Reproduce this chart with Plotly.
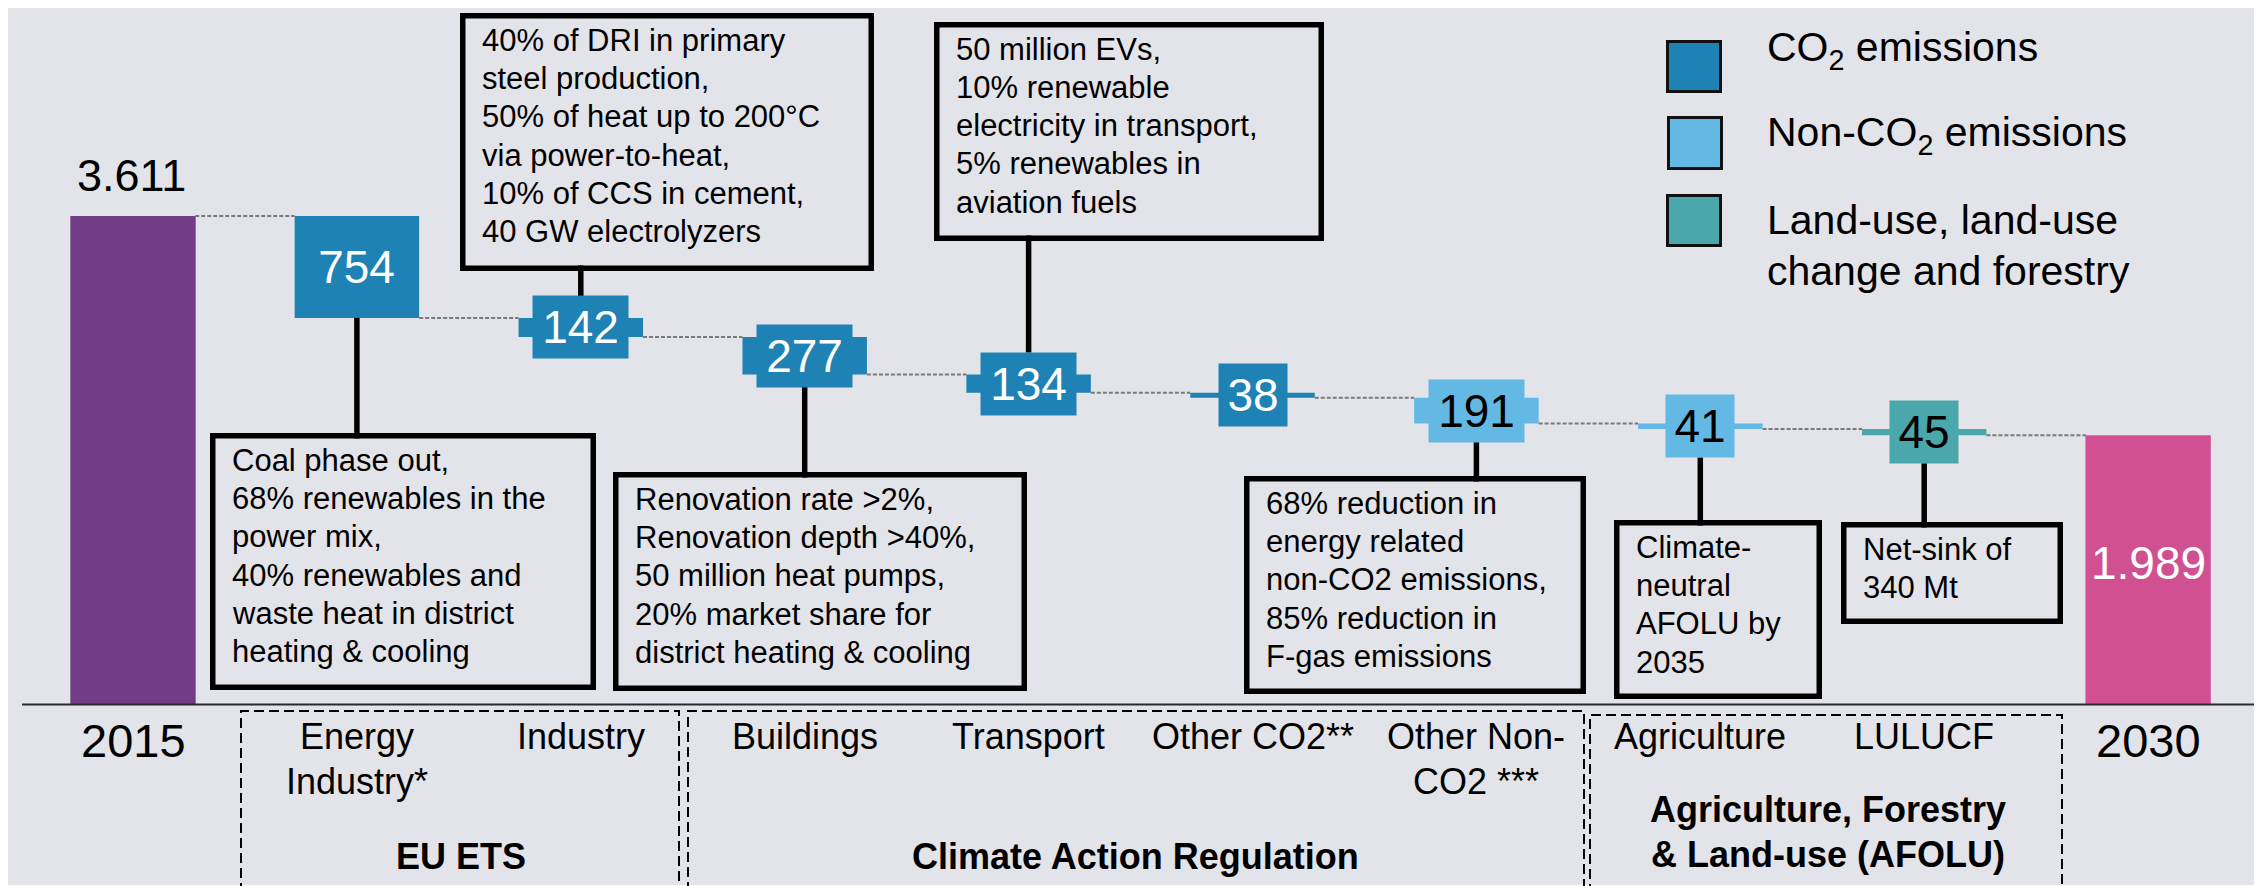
import plotly.graph_objects as go

# ---------------- data ----------------
years = ["2015", "2030"]
start_total = 3611
end_total = 1989
sectors = ["Energy Industry*", "Industry", "Buildings", "Transport",
           "Other CO2**", "Other Non-CO2 ***", "Agriculture", "LULUCF"]
sector_labels = ["Energy<br>Industry*", "Industry", "Buildings", "Transport",
                 "Other CO2**", "Other Non-<br>CO2 ***", "Agriculture", "LULUCF"]
reductions = [754, 142, 277, 134, 38, 191, 41, 45]
reduction_type = ["CO2", "CO2", "CO2", "CO2", "CO2", "NonCO2", "NonCO2", "LULUCF"]

callout_texts = {
    0: ["Coal phase out,", "68% renewables in the", "power mix,",
        "40% renewables and", "waste heat in district", "heating & cooling"],
    1: ["40% of DRI in primary", "steel production,", "50% of heat up to 200°C",
        "via power-to-heat,", "10% of CCS in cement,", "40 GW electrolyzers"],
    2: ["Renovation rate >2%,", "Renovation depth >40%,", "50 million heat pumps,",
        "20% market share for", "district heating & cooling"],
    3: ["50 million EVs,", "10% renewable", "electricity in transport,",
        "5% renewables in", "aviation fuels"],
    5: ["68% reduction in", "energy related", "non-CO2 emissions,",
        "85% reduction in", "F-gas emissions"],
    6: ["Climate-", "neutral", "AFOLU by", "2035"],
    7: ["Net-sink of", "340 Mt"],
}

legend_items = [("CO2", "CO<sub>2</sub> emissions"),
                ("NonCO2", "Non-CO<sub>2</sub> emissions"),
                ("LULUCF", "Land-use, land-use|change and forestry")]

# ---------------- styles ----------------
W, H = 2262, 886
BG = "#E3E4E9"
C_START = "#723D86"
C_END = "#D05092"
type_colors = {"CO2": "#1F82B4", "NonCO2": "#64B9E4", "LULUCF": "#4AA8AC"}
type_text = {"CO2": "white", "NonCO2": "black", "LULUCF": "black"}
FONT = "Arial, 'Liberation Sans', sans-serif"

X0, DX = 125.0, 223.9          # pixel of category 0, pixels per category
Y0, K = 696.0, 488.0 / 3611.0  # pixel of value 0, pixels per unit


def vy(v):      # value -> pixel y
    return Y0 - v * K


def px(xp):     # pixel x -> paper
    return xp / W


def py(yp):     # pixel y -> paper
    return 1 - yp / H


# running totals
levels = [start_total]
for r in reductions:
    levels.append(levels[-1] - r)
bases = levels[1:]
centers = [b + r / 2 for b, r in zip(bases, reductions)]

fig = go.Figure()

BW = 0.556
fig.add_trace(go.Bar(x=[0, len(sectors) + 1], y=[start_total, end_total],
                     width=BW + 0.004, marker=dict(color=[C_START, C_END], line=dict(width=0)),
                     hoverinfo="skip", showlegend=False))
fig.add_trace(go.Bar(x=list(range(1, len(sectors) + 1)), y=reductions, base=bases,
                     width=BW, marker=dict(color=[type_colors[t] for t in reduction_type],
                                           line=dict(width=0)),
                     hoverinfo="skip", showlegend=False))

# dashed connectors between consecutive bars
cx, cy = [], []
for i, lv in enumerate(levels):
    cx += [i + BW / 2, i + 1 - BW / 2, None]
    cy += [lv, lv, None]
fig.add_trace(go.Scatter(x=cx, y=cy, mode="lines",
                         line=dict(color="#7a7a7a", width=2, dash="4px,2px"),
                         hoverinfo="skip", showlegend=False))

shapes = []
annotations = []

# white strip at the very bottom
shapes.append(dict(type="rect", xref="paper", yref="paper", x0=0, x1=1, y0=0, y1=py(877),
                   fillcolor="white", line=dict(width=0), layer="below"))


def text(xp, cap_top, s, size, color="black", bold=False, xanchor="left"):
    y_top = cap_top - 0.40 * size - 1
    if bold:
        s = "<b>" + s + "</b>"
    annotations.append(dict(x=px(xp), y=py(y_top), xref="paper", yref="paper",
                            xanchor=xanchor, yanchor="top", text=s, showarrow=False,
                            borderpad=0, font=dict(size=size, color=color, family=FONT)))


# value label boxes on the reduction bars
for i, (r, t, c) in enumerate(zip(reductions, reduction_type, centers)):
    annotations.append(dict(x=i + 1, y=c, xref="x", yref="y", text=str(r), showarrow=False,
                            width=95 if r >= 100 else 68, height=62, borderpad=0,
                            bgcolor=type_colors[t], xanchor="center", yanchor="middle",
                            font=dict(size=46, color=type_text[t], family=FONT)))

# totals labels
text(X0 - 2, 160, f"{start_total/1000:.3f}", 45, xanchor="center")
text(X0 + DX * 9, 547, f"{end_total/1000:.3f}", 46, color="white", xanchor="center")

# callout boxes (outer pixel edges: L, T, R, B)
boxes = {0: (202, 425, 588, 682), 1: (452, 5, 866, 263), 2: (605, 464, 1019, 683),
         3: (926, 14, 1316, 233), 5: (1236, 468, 1578, 686), 6: (1606, 512, 1814, 691),
         7: (1833, 514, 2055, 616)}
BL = 5.5
for i, (L, T, R, B) in boxes.items():
    shapes.append(dict(type="rect", xref="paper", yref="paper",
                       x0=px(L + BL / 2), x1=px(R - BL / 2), y0=py(B - BL / 2), y1=py(T + BL / 2),
                       line=dict(color="black", width=BL), fillcolor=BG))
    for j, line in enumerate(callout_texts[i]):
        text(L + 21, T + 22 + j * 38.3, line, 31)
    # vertical connector
    xc = X0 + DX * (i + 1)
    if i == 0:
        label_edge_top, label_edge_bot = vy(levels[0]), vy(bases[0])
    else:
        label_edge_top, label_edge_bot = vy(centers[i]) - 31, vy(centers[i]) + 31
    if T > label_edge_bot:
        y_a, y_b = label_edge_bot, T + BL
    else:
        y_a, y_b = B - BL, label_edge_top
    shapes.append(dict(type="line", xref="paper", yref="paper", x0=px(xc), x1=px(xc),
                       y0=py(y_a), y1=py(y_b), line=dict(color="black", width=5.5)))

# baseline
shapes.append(dict(type="line", xref="paper", yref="paper", x0=px(14), x1=px(2251),
                   y0=py(Y0 + 0.5), y1=py(Y0 + 0.5), line=dict(color="#2a2a2a", width=2)))

# bottom year labels
text(X0, 725, years[0], 47, xanchor="center")
text(X0 + DX * 9, 725, years[1], 47, xanchor="center")

# sector labels
for i, lab in enumerate(sector_labels):
    for j, part in enumerate(lab.split("<br>")):
        text(X0 + DX * (i + 1), 722 + j * 45, part, 36, xanchor="center")

# group boxes (dashed)
groups = [(233, 703, 671, 900), (680, 703, 1576, 900), (1582, 707, 2054, 884)]
for L, T, R, B in groups:
    shapes.append(dict(type="rect", xref="paper", yref="paper", x0=px(L), x1=px(R),
                       y0=py(B), y1=py(T), line=dict(color="black", width=2, dash="10px,5px")))
text(453, 842, "EU ETS", 36, bold=True, xanchor="center")
text(1127, 842, "Climate Action Regulation", 36, bold=True, xanchor="center")
text(1820, 795, "Agriculture, Forestry", 36, bold=True, xanchor="center")
text(1820, 840, "& Land-use (AFOLU)", 36, bold=True, xanchor="center")

# legend
leg_sq = [(1658, 32, 1714, 85), (1659, 108, 1715, 162), (1658, 186, 1714, 239)]
leg_cap = [[32], [117], [205, 256]]
for (key, lab), (L, T, R, B), caps in zip(legend_items, leg_sq, leg_cap):
    shapes.append(dict(type="rect", xref="paper", yref="paper", x0=px(L + 1.5), x1=px(R - 1.5),
                       y0=py(B - 1.5), y1=py(T + 1.5), fillcolor=type_colors[key],
                       line=dict(color="#111111", width=3)))
    for part, ct in zip(lab.split("|"), caps):
        text(1758, ct, part, 41)

fig.update_layout(
    width=W, height=H, margin=dict(l=0, r=0, t=0, b=0),
    paper_bgcolor=BG, plot_bgcolor=BG, barmode="overlay", showlegend=False,
    xaxis=dict(range=[-X0 / DX, (W - X0) / DX], visible=False, fixedrange=True),
    yaxis=dict(range=[-(H - Y0) / K, Y0 / K], visible=False, fixedrange=True),
    shapes=shapes, annotations=annotations,
    font=dict(family=FONT),
)

fig.write_html("out.html")
